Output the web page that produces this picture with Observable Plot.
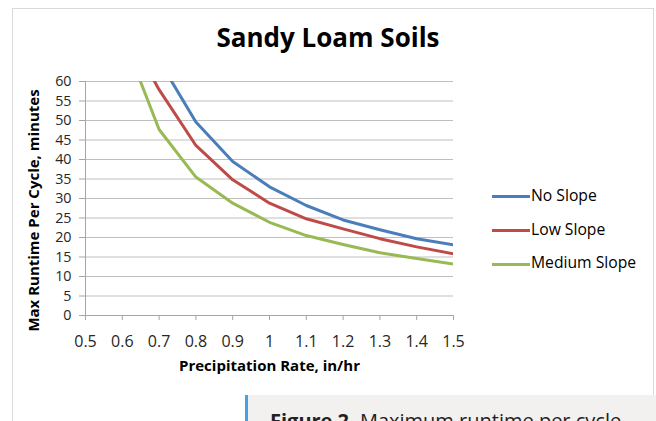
<!DOCTYPE html>
<html>
<head>
<meta charset="utf-8">
<script src="https://cdn.jsdelivr.net/npm/d3@7"></script>
<script src="https://cdn.jsdelivr.net/npm/@observablehq/plot@0.6"></script>
<style>
html, body { margin: 0; padding: 0; background: #fff; overflow: hidden; width: 656px; height: 421px; }
#wrap { position: relative; width: 656px; height: 421px; font-family: "Open Sans", sans-serif; color: #262626; }
#frame { position: absolute; left: 12px; top: 8px; width: 642px; height: 440px; border: 1px solid #d9d9d9; box-sizing: border-box; }
#title { position: absolute; left: 0; top: 23.8px; width: 656px; text-align: center; font-size: 26px; line-height: 1; font-weight: bold; color: #000; }
#chart { position: absolute; left: 0; top: 0; }
.lg-line { position: absolute; left: 492px; width: 38px; height: 3px; }
.lg-text { position: absolute; left: 531px; font-size: 15.7px; line-height: 1; color: #000; white-space: nowrap; }
#caption { position: absolute; left: 245px; top: 395px; width: 411px; height: 40px; background: #f2f1f0; border-left: 3px solid #43a2e6; box-sizing: border-box; font-family: "Open Sans", sans-serif; font-size: 20px; line-height: 1; color: #222; white-space: nowrap; overflow: hidden; }
#caption span.t { position: absolute; left: 22px; top: 16px; }
</style>
</head>
<body>
<div id="wrap">
  <div id="frame"></div>
  <div id="chart"></div>
  <div id="title"></div>
  <div id="legend"></div>
  <div id="caption"><span class="t"><b>Figure 2.</b> Maximum runtime per cycle</span></div>
</div>
<script>
// ---- data ----
const chartTitle = "Sandy Loam Soils";
const xTitle = "Precipitation Rate, in/hr";
const yTitle = "Max Runtime Per Cycle, minutes";
const seriesNames = ["No Slope", "Low Slope", "Medium Slope"];
const seriesColors = ["#4a7ebb", "#be4b48", "#98b954"];
const rates = [0.6, 0.7, 0.8, 0.9, 1.0, 1.1, 1.2, 1.3, 1.4, 1.5];
const noSlope = [null, 65.4, 49.6, 39.5, 33.0, 28.2, 24.5, 22.0, 19.7, 18.1];
const lowSlope = [75, 57.9, 43.6, 34.8, 28.8, 24.8, 22.2, 19.7, 17.6, 15.8];
const mediumSlope = [72, 47.7, 35.5, 28.8, 23.9, 20.5, 18.2, 16.1, 14.6, 13.2];
const xTicks = [0.5, 0.6, 0.7, 0.8, 0.9, 1, 1.1, 1.2, 1.3, 1.4, 1.5];
const yTicks = [0, 5, 10, 15, 20, 25, 30, 35, 40, 45, 50, 55, 60];

// ---- tidy table ----
const seriesValues = [noSlope, lowSlope, mediumSlope];
const rows = [];
seriesNames.forEach((name, s) => {
  rates.forEach((r, i) => {
    const v = seriesValues[s][i];
    if (v != null) rows.push({series: name, rate: r, minutes: v});
  });
});

document.getElementById("title").textContent = chartTitle;

const axisGray = "#a6a6a6";
const plot = Plot.plot({
  width: 656,
  height: 390,
  marginLeft: 85,
  marginRight: 203,
  marginTop: 81,
  marginBottom: 75,
  style: {fontFamily: "'Open Sans', sans-serif", background: "transparent", overflow: "visible", color: "#262626"},
  x: {domain: [0.5, 1.5]},
  y: {domain: [0, 60]},
  color: {domain: seriesNames, range: seriesColors},
  marks: [
    Plot.gridY(yTicks, {stroke: "#bfbfbf", strokeOpacity: 1, strokeWidth: 1}),
    Plot.ruleX([0.5], {stroke: axisGray, strokeWidth: 1}),
    Plot.ruleY([0], {stroke: axisGray, strokeWidth: 1}),
    Plot.axisY({ticks: yTicks, tickSize: 6, tickPadding: 8, stroke: axisGray, fill: "#262626", fontSize: 14.3, label: null, tickFormat: d => String(d)}),
    Plot.axisX({ticks: xTicks, tickSize: 5, tickPadding: 15, stroke: axisGray, fill: "#262626", fontSize: 16, label: null, tickFormat: d => String(d)}),
    Plot.line(rows, {x: "rate", y: "minutes", z: "series", stroke: "series", strokeWidth: 3, clip: true, strokeLinejoin: "round", strokeLinecap: "butt"}),
    Plot.text([xTitle], {frameAnchor: "bottom", textAnchor: "middle", lineAnchor: "middle", dy: 51, fontWeight: "bold", fontSize: 15, fill: "#000"}),
    Plot.text([yTitle], {frameAnchor: "left", textAnchor: "middle", lineAnchor: "middle", rotate: -90, dx: -51.5, dy: 12, fontWeight: "bold", fontSize: 15, fill: "#000"})
  ]
});
document.getElementById("chart").appendChild(plot);

// ---- legend ----
const lineY = [195.2, 229.2, 262.8];
const textTop = [188.3, 221.8, 255.3];
const legend = document.getElementById("legend");
seriesNames.forEach((name, i) => {
  const l = document.createElement("div");
  l.className = "lg-line";
  l.style.top = lineY[i] + "px";
  l.style.background = seriesColors[i];
  legend.appendChild(l);
  const t = document.createElement("div");
  t.className = "lg-text";
  t.style.top = textTop[i] + "px";
  t.textContent = name;
  legend.appendChild(t);
});
</script>
</body>
</html>
